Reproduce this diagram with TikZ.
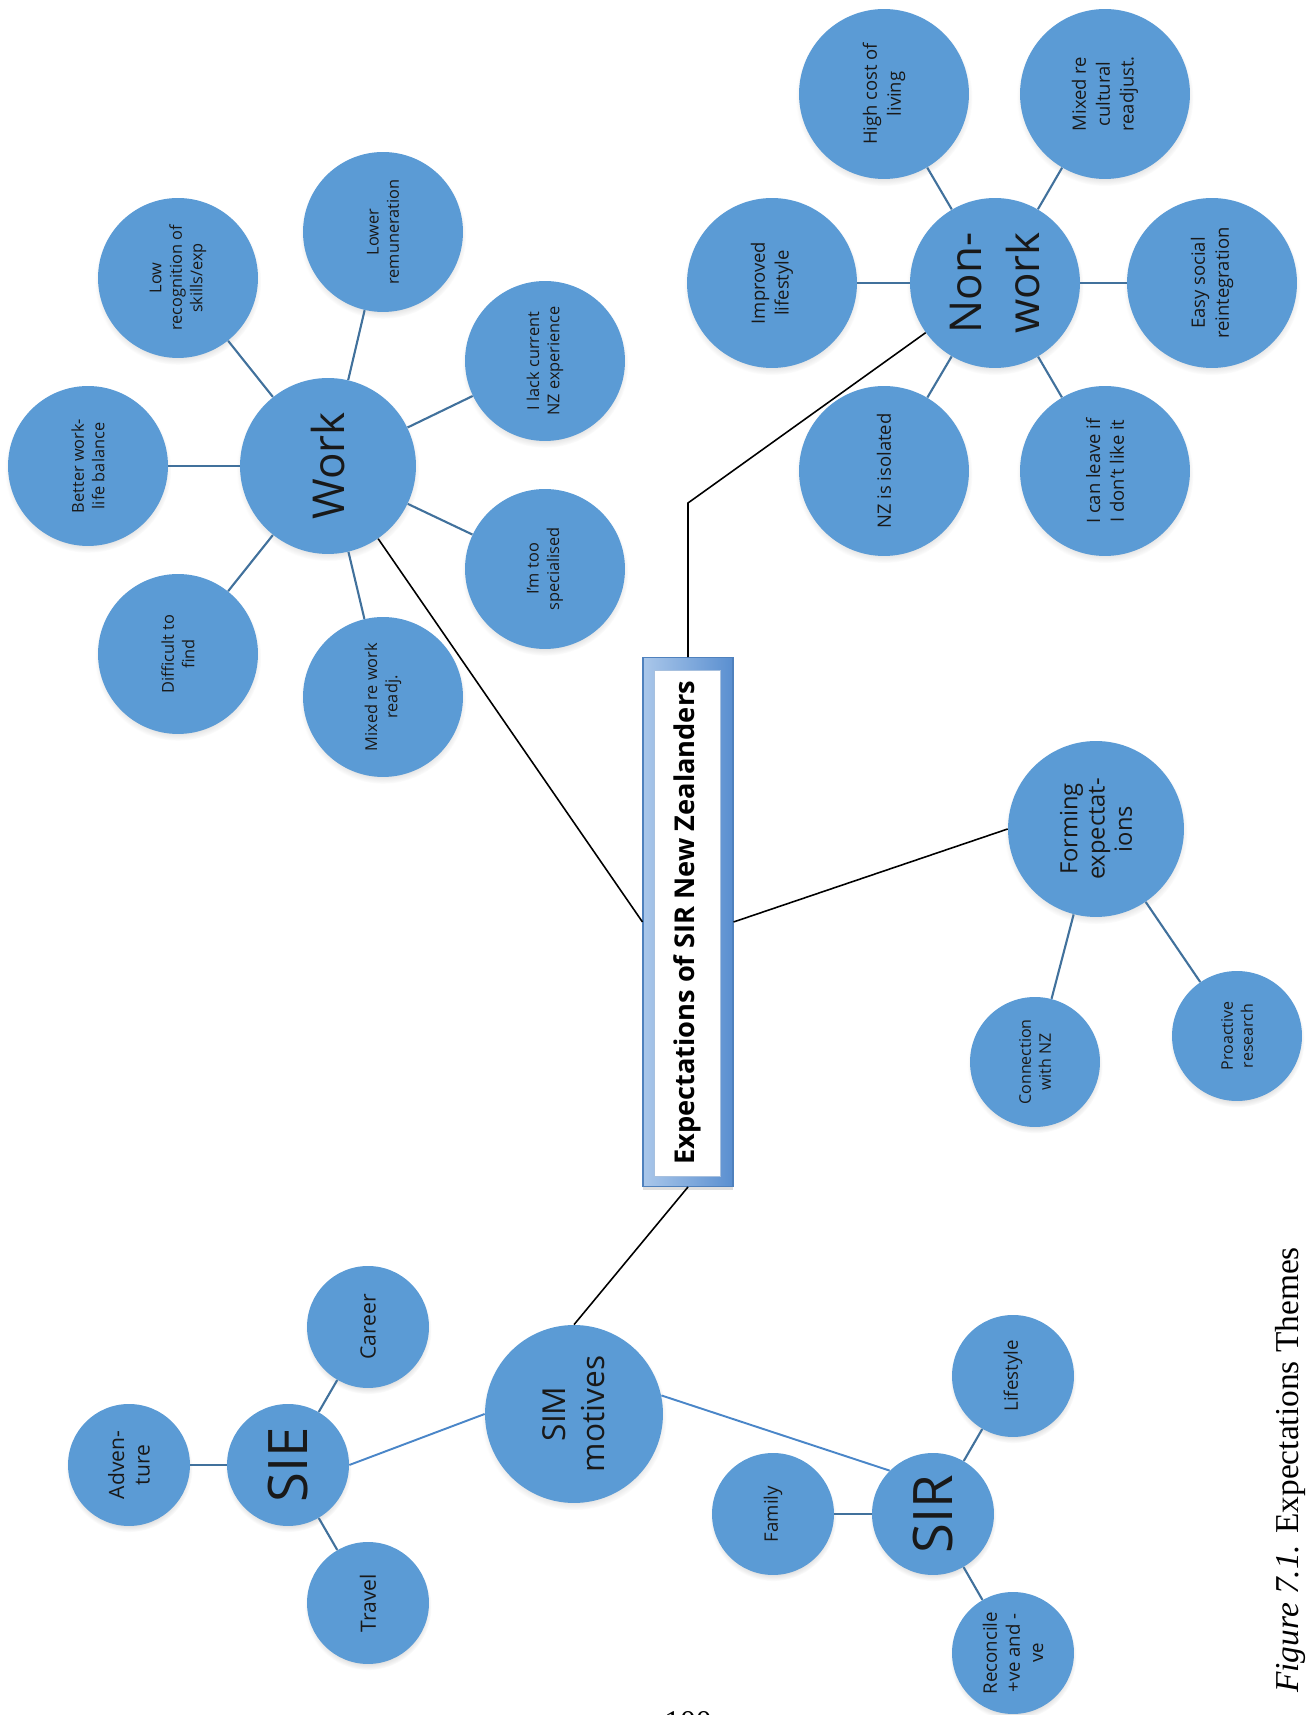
\documentclass[tikz,border=0pt]{standalone}
\usepackage{fontspec}
\setmainfont{Open Sans}
\newfontfamily\capfont{Liberation Serif}
\usetikzlibrary{shadows}
\definecolor{bubble}{HTML}{5B9BD5}
\definecolor{spokeblue}{HTML}{41719C}
\definecolor{linkblue}{HTML}{4A86C8}
\definecolor{boxlight}{HTML}{AAC7EA}
\definecolor{boxdark}{HTML}{5A8FD0}
\definecolor{boxedge}{HTML}{4F81BD}
\begin{document}
\begin{tikzpicture}[x=0.02cm, y=0.02cm,
  bub/.style={circle, fill=bubble, inner sep=0pt, align=center, text=black!90,
    circular drop shadow={shadow xshift=0pt, shadow yshift=-2pt, shadow scale=1.04, opacity=.35}},
  hub/.style={bub, minimum size=3.52cm, font=\fontsize{25}{33}\selectfont},
  minihub/.style={bub, minimum size=2.44cm, font=\fontsize{31}{36}\selectfont},
  wsat/.style={bub, minimum size=3.2cm, font=\fontsize{9.3}{11.6}\selectfont},
  nsat/.style={bub, minimum size=3.4cm, font=\fontsize{10.5}{13.6}\selectfont},
  fsat/.style={bub, minimum size=2.6cm, font=\fontsize{9.1}{11.4}\selectfont},
  esat/.style={bub, minimum size=2.44cm, font=\fontsize{12}{14.5}\selectfont},
  rsat/.style={bub, minimum size=2.44cm, font=\fontsize{10.6}{13.2}\selectfont},
  spoke/.style={draw=spokeblue, line width=1.2pt},
  link/.style={draw=linkblue, line width=1.1pt},
  trunk/.style={draw=black, line width=0.9pt}]
\useasboundingbox (0,0) rectangle (1314,1715);
\begin{scope}[rotate=90, transform shape]
% title box
\node[draw=boxedge, line width=.6pt, left color=boxlight, right color=boxdark, minimum width=10.58cm, minimum height=1.8cm,
  drop shadow={shadow xshift=0pt, shadow yshift=-2pt, opacity=.25}] (box) at (793,-688) {};
\node[fill=white, draw=boxedge!50, line width=.4pt, minimum width=10.12cm, minimum height=1.32cm,
  font=\bfseries\fontsize{15.5}{19}\selectfont] (title) at (792,-687) {Expectations of SIR New Zealanders};
% work
\node[hub] (work) at (1249,-328) {Work};
\node[wsat] (balance) at (1249,-88) {Better work-\\life balance};
\node[wsat] (recog) at (1437,-178) {Low\\recognition of\\skills/exp};
\node[wsat] (pay) at (1483,-383) {Lower\\remuneration};
\node[wsat] (nzexp) at (1354,-545) {I lack current\\NZ experience};
\node[wsat] (special) at (1146,-545) {I’m too\\specialised};
\node[wsat] (readj) at (1018,-383) {Mixed re work\\readj.};
\node[wsat] (find) at (1061,-178) {Difficult to\\find};
% non-work
\node[hub, minimum size=3.4cm] (nonwork) at (1432,-995) {Non-\\work};
\node[nsat] (cost) at (1621,-884) {High cost of\\living};
\node[nsat] (culture) at (1621,-1105) {Mixed re\\cultural\\readjust.};
\node[nsat] (improved) at (1432,-772) {Improved\\lifestyle};
\node[nsat] (social) at (1432,-1212) {Easy social\\reintegration};
\node[nsat] (isolated) at (1244,-884) {NZ is isolated};
\node[nsat] (leave) at (1244,-1105) {I can leave if\\I don’t like it};
% forming
\node[hub, font=\fontsize{13.5}{15.5}\selectfont] (forming) at (886,-1096) {Forming\\expectat-\\ions};
\node[fsat] (connect) at (653,-1035) {Connection\\with NZ};
\node[fsat] (research) at (679,-1237) {Proactive\\research};
% motives
\node[hub, minimum size=3.56cm, font=\fontsize{18}{22}\selectfont] (sim) at (301,-574) {SIM\\motives};
\node[minihub] (sie) at (250,-288) {SIE};
\node[esat] (adventure) at (250,-129) {Adven-\\ture};
\node[esat] (career) at (388,-368) {Career};
\node[esat] (travel) at (112,-368) {Travel};
\node[minihub] (sir) at (201,-933) {SIR};
\node[rsat] (family) at (201,-773) {Family};
\node[rsat] (lifestyle) at (339,-1013) {Lifestyle};
\node[rsat] (reconcile) at (62,-1013) {Reconcile\\+ve and -\\ve};
\node[font=\capfont\fontsize{19}{23}\selectfont] (caption) at (245,-1290) {\textit{Figure 7.1.} Expectations Themes};
% connectors
\foreach \s in {balance,recog,pay,nzexp,special,readj,find} \draw[spoke] (work) -- (\s);
\foreach \s in {cost,culture,improved,social,isolated,leave} \draw[spoke] (nonwork) -- (\s);
\foreach \s in {connect,research} \draw[spoke] (forming) -- (\s);
\foreach \s in {adventure,career,travel} \draw[spoke] (sie) -- (\s);
\foreach \s in {family,lifestyle,reconcile} \draw[spoke] (sir) -- (\s);
\draw[link] (sim.north) -- (sie.south);
\draw[link] (sim.-78) -- (sir.north east);
\coordinate (bend) at (1212,-688);
\draw[trunk] (work) -- (box.north);
\draw[trunk] (box.south) -- (forming.north);
\draw[trunk] (box.east) -- (bend) -- (nonwork);
\draw[trunk] (box.west) -- (sim.east);
\end{scope}
\node[anchor=base, font=\capfont\fontsize{18}{22}\selectfont] (pagenum) at (688,-17) {100};
\end{tikzpicture}
\end{document}
